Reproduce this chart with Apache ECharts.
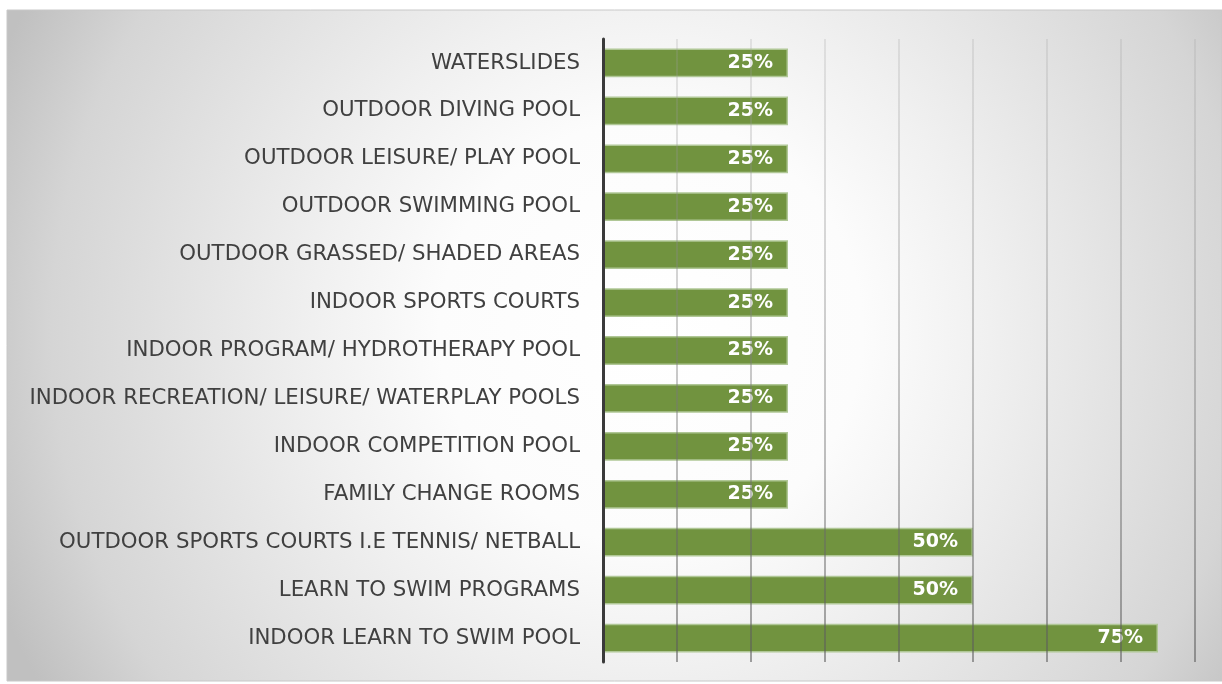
<!DOCTYPE html>
<html>
<head>
<meta charset="utf-8">
<script src="https://cdn.jsdelivr.net/npm/echarts@6/dist/echarts.min.js"></script>
<style>
html, body { margin: 0; padding: 0; background: #fff; }
#bar { width: 1222px; height: 684px; }
</style>
</head>
<body>
<div id="bar"></div>
<script>
// categories, top to bottom as in the picture
var categories = [
    'WATERSLIDES',
    'OUTDOOR DIVING POOL',
    'OUTDOOR LEISURE/ PLAY POOL',
    'OUTDOOR SWIMMING POOL',
    'OUTDOOR GRASSED/ SHADED AREAS',
    'INDOOR SPORTS COURTS',
    'INDOOR PROGRAM/ HYDROTHERAPY POOL',
    'INDOOR RECREATION/ LEISURE/ WATERPLAY POOLS',
    'INDOOR COMPETITION POOL',
    'FAMILY CHANGE ROOMS',
    'OUTDOOR SPORTS COURTS I.E TENNIS/ NETBALL',
    'LEARN TO SWIM PROGRAMS',
    'INDOOR LEARN TO SWIM POOL'
];
var percents = [25, 25, 25, 25, 25, 25, 25, 25, 25, 25, 50, 50, 75];

var barChart = echarts.init(document.getElementById('bar'));

option = {
    animation: false,
    graphic: [{
        type: 'rect',
        z: -10,
        silent: true,
        shape: { x: 7, y: 10, width: 1215, height: 671 },
        style: {
            fill: {
                type: 'radial',
                x: 0.53, y: 0.48, r: 1.05,
                colorStops: [
                    { offset: 0, color: '#ffffff' },
                    { offset: 0.3, color: '#fcfcfc' },
                    { offset: 0.48, color: '#f0f0f0' },
                    { offset: 0.85, color: '#d5d5d5' },
                    { offset: 1, color: '#c0c0c0' }
                ]
            },
            stroke: '#c8c8c8',
            lineWidth: 1
        }
    }],
    grid: {
        left: 603,
        right: 27,
        top: 39,
        bottom: 22,
        containLabel: false
    },
    xAxis: {
        type: 'value',
        min: 0,
        max: 80,
        interval: 10,
        z: 5,
        axisLabel: { show: false },
        axisLine: { show: false },
        axisTick: { show: false },
        splitLine: {
            lineStyle: {
                width: 1.5,
                color: {
                    type: 'linear', x: 0, y: 0, x2: 0, y2: 1,
                    colorStops: [
                        { offset: 0, color: 'rgba(160,160,160,0.3)' },
                        { offset: 1, color: 'rgba(90,90,90,0.75)' }
                    ]
                }
            }
        }
    },
    yAxis: {
        type: 'category',
        inverse: true,
        data: categories,
        z: 6,
        axisLine: {
            lineStyle: { color: '#3a3a3a', width: 3 }
        },
        axisTick: { show: false },
        axisLabel: {
            color: '#404040',
            fontFamily: 'DejaVu Sans',
            fontSize: 21.3,
            margin: 23
        }
    },
    series: [{
        type: 'bar',
        data: percents,
        barCategoryGap: '40%',
        itemStyle: {
            color: '#71933f',
            borderColor: '#b0c796',
            borderWidth: 1.5
        },
        label: {
            show: true,
            position: 'insideRight',
            distance: 15,
            formatter: '{c}%',
            color: '#ffffff',
            fontFamily: 'DejaVu Sans',
            fontWeight: 'bold',
            fontSize: 19
        }
    }]
};

barChart.setOption(option);
</script>
</body>
</html>
